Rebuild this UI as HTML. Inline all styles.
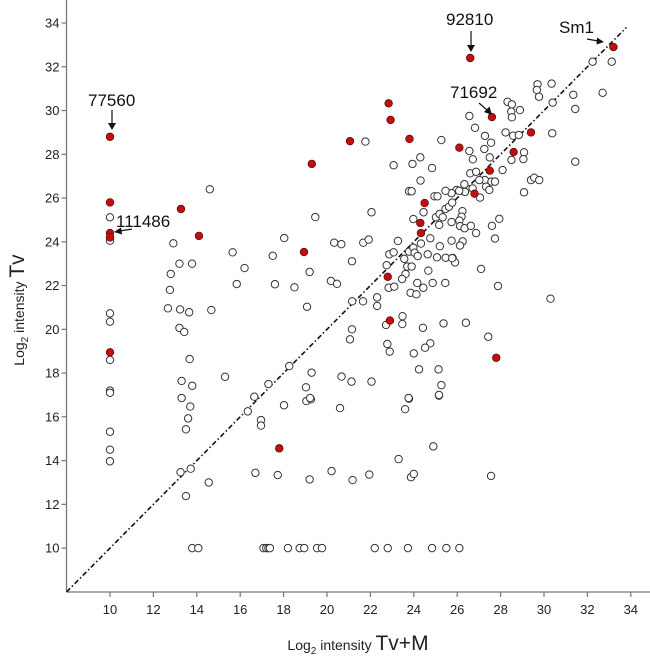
<!DOCTYPE html>
<html><head><meta charset="utf-8"><style>
html,body{margin:0;padding:0;background:#fff;}
svg{display:block;font-family:"Liberation Sans",Arial,sans-serif;}
</style></head><body>
<svg id="chart" width="650" height="663" viewBox="0 0 650 663" xmlns="http://www.w3.org/2000/svg">
<g id="axes"></g>
<g id="marks"></g>
<g font-size="17" fill="#111">
<text x="88" y="106">77560</text>
<text x="116" y="227">111486</text>
<text x="446" y="25">92810</text>
<text x="450" y="98">71692</text>
<text x="559" y="33">Sm1</text>
</g>
<g stroke="#111" stroke-width="1.2" fill="#111">
<line x1="112" y1="110" x2="112" y2="124"/><polygon points="108,123 116,123 112,130" stroke="none"/>
<line x1="132" y1="229" x2="120" y2="231"/><polygon points="121,227.5 122,234.5 114,232" stroke="none"/>
<line x1="471" y1="31" x2="471" y2="46"/><polygon points="467,45 475,45 471,52" stroke="none"/>
<line x1="479" y1="103" x2="487" y2="110"/><polygon points="484,112 489.5,106.5 492,115" stroke="none"/>
<line x1="587" y1="39" x2="598" y2="41"/><polygon points="597,37.5 596.5,44.5 604,42" stroke="none"/>
</g>
<text x="358" y="650" text-anchor="middle" font-size="14" fill="#222">Log<tspan font-size="10" dy="4">2</tspan><tspan dy="-4"> intensity </tspan><tspan font-size="21">Tv+M</tspan></text>
<text transform="translate(24,310) rotate(-90)" text-anchor="middle" font-size="14" fill="#222">Log<tspan font-size="10" dy="4">2</tspan><tspan dy="-4"> intensity </tspan><tspan font-size="21">Tv</tspan></text>
</svg>
<script>
const xTicks = [10,12,14,16,18,20,22,24,26,28,30,32,34];
const yTicks = [10,12,14,16,18,20,22,24,26,28,30,32,34];
const openX = [10,10,10,10,10,10,10,10,10,10,
12.92,15.65,13.2,13.78,16.2,12.8,15.84,12.76,12.67,13.23,13.65,14.67,13.2,13.42,13.67,15.3,13.3,13.79,16.65,13.3,13.7,13.6,13.5,13.25,13.72,14.55,13.5,13.79,14.07,16.35,16.96,16.96,16.7,14.6,
17.07,17.2,17.3,17.37,18.2,18.74,18.95,19.54,19.77,22.2,22.8,23.73,24.84,25.5,26.1,
18.02,19.05,19.26,20.6,23.78,23.6,25.16,17.73,19.2,20.21,21.18,21.95,23.3,24.9,23.87,24.0,27.56,
26.24,26.2,26.1,25.74,26.13,26.34,26.63,26.87,27.6,27.94,27.74,25.74,26.25,26.13,25.79,25.9,27.1,27.88,30.3,26.4,27.43,
19.46,22.05,18.03,17.5,20.33,20.66,21.67,21.92,23.27,21.15,19.2,17.6,18.5,20.18,20.46,19.08,21.16,21.66,22.31,22.31,22.87,23.07,22.75,22.84,23.1,23.7,23.9,23.62,23.46,23.78,23.98,24.04,24.18,23.56,24.33,24.45,23.98,24.76,25.02,25.19,25.33,25.46,25.62,25.77,25.17,25.2,24.64,25.07,25.47,25.77,24.67,24.16,24.44,24.87,25.45,23.85,24.12,23.48,23.47,22.72,24.42,25.37,21.15,21.06,22.78,22.89,24.76,24.52,24.0,24.24,25.14,19.29,20.67,21.13,22.05,19.03,19.22,25.27,25.16,23.76,18.26,17.3,
32.24,33.12,32.7,29.7,30.35,29.67,29.77,31.35,31.44,30.4,30.38,31.44,28.32,28.52,28.89,28.49,28.52,26.56,26.82,27.28,27.56,28.23,28.58,28.84,27.25,26.56,27.5,26.72,29.08,29.05,28.5,28.09,26.6,26.87,27.28,27.02,27.58,27.74,29.4,29.55,29.78,26.33,26.71,27.33,27.48,29.08,25.97,26.36,27.05,25.74,
21.77,25.27,23.07,23.94,24.3,24.84,24.31,23.78,23.9,24.95,25.09,25.46,26.09];
const openY = [25.12,24.05,20.73,20.35,18.6,17.2,17.1,15.32,14.5,13.97,
23.93,23.52,23.0,23.0,22.8,22.53,22.07,21.8,20.96,20.91,20.78,20.88,20.06,19.88,18.64,17.83,17.64,17.42,16.92,16.86,16.47,15.93,15.43,13.47,13.63,13.0,12.38,10,10,16.25,15.85,15.6,13.44,26.4,
10,10,10,10,10,10,10,10,10,10,10,10,10,10,10,
16.53,16.72,16.8,16.4,16.83,16.35,16.97,13.34,13.14,13.52,13.11,13.36,14.07,14.65,13.24,13.39,13.3,
25.4,25.15,24.97,24.9,24.72,24.62,24.73,24.4,24.73,25.05,24.15,24.05,24.02,23.83,23.26,23.06,22.76,21.98,21.4,20.3,19.66,
25.13,25.35,24.17,23.36,23.96,23.89,23.96,24.1,24.04,23.11,22.62,22.06,21.92,22.21,22.08,21.03,21.28,21.28,21.46,21.07,23.43,23.52,22.93,21.9,21.95,22.87,22.87,22.53,22.3,23.55,23.73,23.5,23.35,23.22,23.92,25.35,25.04,24.16,25.12,25.27,25.12,25.5,25.6,25.79,24.77,23.8,23.43,23.29,23.27,23.25,22.68,22.12,21.9,22.12,22.12,21.67,21.6,20.6,20.24,20.2,20.07,20.27,20.0,19.54,19.33,18.98,19.36,19.16,18.9,18.17,18.17,18.02,17.84,17.61,17.61,17.35,16.86,17.45,17.0,16.86,18.32,17.5,
32.23,32.23,30.81,31.2,31.23,30.94,30.63,30.72,30.07,30.36,28.96,27.66,30.4,30.28,30.02,29.95,29.69,29.75,29.21,28.84,28.53,29.0,28.85,28.88,28.24,28.15,27.86,27.77,28.09,27.78,27.74,27.28,27.13,27.2,26.82,26.82,26.75,26.75,26.82,26.93,26.82,26.63,26.44,26.52,26.37,26.26,26.37,26.28,26.02,26.22,
28.58,28.65,27.5,27.56,27.86,27.37,26.8,26.31,26.31,26.08,26.08,26.33,26.33];
const redX = [10,10,10,10,10,13.27,14.1,18.94,19.3,21.06,22.84,22.93,23.8,22.8,22.9,24.3,24.33,24.5,26.6,27.6,29.4,28.6,27.5,26.1,26.8,33.2,27.8,17.8];
const redY = [28.8,25.8,24.4,24.2,18.95,25.5,24.27,23.53,27.56,28.6,30.33,29.57,28.7,22.4,20.4,24.86,24.4,25.77,32.4,29.7,29.0,28.1,27.25,28.3,26.2,32.9,18.7,14.56];
const diagStart = 8, diagEnd = 33.8;

const NS = "http://www.w3.org/2000/svg";
const X0 = 66.5, XBOT = 592, PXU = 21.7, PYU = 21.88, YTOP34 = 23;
function sx(v){ return 110 + (v - 10) * PXU; }
function sy(v){ return YTOP34 + (34 - v) * PYU; }
function mk(tag, attrs, parent){ const e = document.createElementNS(NS, tag); for (const k in attrs) e.setAttribute(k, attrs[k]); parent.appendChild(e); return e; }

const axes = document.getElementById('axes');
let yl = mk('line', {x1:X0, y1:0, x2:X0, y2:XBOT, stroke:'#777', 'stroke-width':1.3}, axes);


let xl = mk('line', {x1:X0, y1:XBOT, x2:650, y2:XBOT, stroke:'#777', 'stroke-width':1.3}, axes);


xTicks.forEach(t => {
  const x = sx(t);
  const tk = mk('line', {x1:x, y1:XBOT, x2:x, y2:XBOT+5, stroke:'#777', 'stroke-width':1.2}, axes);
  
  
  const tx = mk('text', {x:x, y:XBOT+22, 'text-anchor':'middle', 'font-size':13, fill:'#222'}, axes);
  tx.textContent = t;
  
  
});
yTicks.forEach(t => {
  const y = sy(t);
  const tk = mk('line', {x1:X0-5, y1:y, x2:X0, y2:y, stroke:'#777', 'stroke-width':1.2}, axes);
  
  
  const tx = mk('text', {x:X0-7, y:y+4.5, 'text-anchor':'end', 'font-size':13, fill:'#222'}, axes);
  tx.textContent = t;
  
  
});
const marks = document.getElementById('marks');
const dl = mk('line', {x1:sx(diagStart), y1:sy(diagStart), x2:sx(diagEnd), y2:sy(diagEnd), stroke:'#111', 'stroke-width':1.6, 'stroke-dasharray':'5,2.5,1.5,2.5'}, marks);


openX.forEach((v, i) => {
  const c = mk('circle', {cx:sx(v), cy:sy(openY[i]), r:3.7, fill:'#fff', stroke:'#333', 'stroke-width':1}, marks);
  
  
});
redX.forEach((v, i) => {
  const c = mk('circle', {cx:sx(v), cy:sy(redY[i]), r:3.8, fill:'#c40d0d', stroke:'#5a1010', 'stroke-width':0.8}, marks);
  
  
});
</script>
</body></html>
